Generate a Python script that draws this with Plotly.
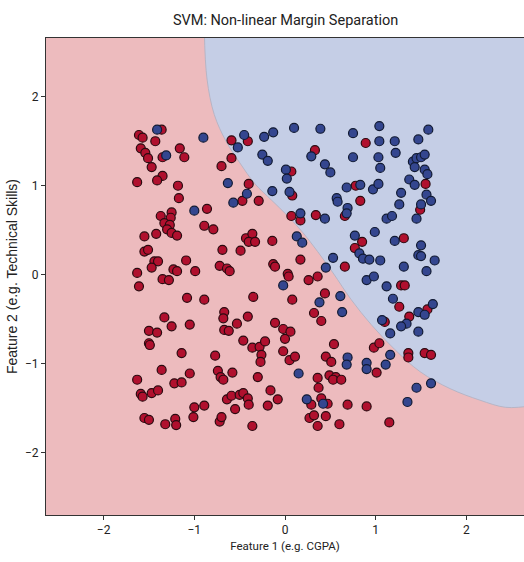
import plotly.graph_objects as go

# ---- data ----
class0_x = [  # red class
    -1.61, -1.57, -1.36, -1.43, -1.59, -1.54, -1.51, -1.35, -1.16, -1.11, -1.47, -1.35, -1.41, -1.63,
    -1.18, -1.17, -0.59, -0.41, -0.59, -0.70, -0.40, -0.47, -0.29, -0.86, -1.37, -1.25, -1.26, -1.33,
    -1.27, -1.30, -1.25, -1.19, -0.89, -0.79, -1.55, -1.42, -0.43, -0.36, -0.40, -0.33, -0.14, -1.55,
    -1.51, -0.69, -0.49, -1.09, -1.44, -1.40, -1.47, -0.13, -0.11, -1.63, -1.23, -1.19, -0.99, -0.72,
    -0.64, -0.61,
    0.89, 0.33, 0.07, 1.55, 0.78, 0.08, 0.83, 1.49, 0.07, 0.17, 0.34, 0.66, 0.17, 0.85, 0.77, 1.31,
    0.66, 0.03,
    -1.35, -1.28, -1.61, -1.08, -0.89, -0.35, -1.33, -1.25, -1.05, -0.67, -0.68, -0.53, -0.41, -0.11,
    -1.50, -1.41, -0.67, -0.62, -0.02, 0.00, -1.50, -1.49, -0.46, -0.36, -0.28, -0.22, -0.26, -0.27,
    -0.02, -1.14, -0.77, -1.36, -1.05, -0.74, -0.71, -0.68, -0.58, -0.30, -1.63, -1.22, -1.14, -1.59,
    -1.57, -1.47, -1.40, -0.64, -0.59, -0.50, -0.46, -0.41, -0.40, -0.16, -0.08, -1.00, -0.89, -1.01,
    -0.55, -0.19, -1.55, -1.50, -1.32, -1.21, -1.20, -0.72, -0.70, -0.36,
    0.04, 0.26, 0.36, 1.28, 1.32, 0.08, 0.44, 0.32, 0.40, 1.26, 1.57, 1.37, 1.10, 0.06, 0.05, 0.11,
    0.54, 0.98, 1.04, 1.36, 1.36, 1.54, 1.61, 0.45, 0.51, 1.01, 0.36, 0.49, 0.56, 0.53, 0.62, 0.37,
    0.29, 0.40, 0.47, 0.69, 0.90, 0.27, 0.32, 0.45, 0.36, 0.60, 1.15,
]
class0_y = [
    1.57, 1.54, 1.63, 1.50, 1.42, 1.37, 1.31, 1.32, 1.42, 1.32, 1.21, 1.11, 1.06, 1.04,
    1.00, 0.86, 1.51, 1.50, 1.31, 1.22, 1.02, 0.83, 0.83, 0.74, 0.66, 0.70, 0.64, 0.58,
    0.56, 0.51, 0.47, 0.44, 0.55, 0.51, 0.43, 0.46, 0.41, 0.46, 0.37, 0.37, 0.38, 0.26,
    0.28, 0.28, 0.27, 0.16, 0.15, 0.15, 0.08, 0.12, 0.09, 0.02, 0.06, 0.04, 0.04, 0.10,
    0.07, 0.04,
    1.48, 1.40, 1.16, 1.02, 1.00, 0.89, 0.83, 0.73, 0.66, 0.61, 0.67, 0.66, 0.17, 0.37, 0.30, 0.41,
    0.09, 0.01,
    -0.05, -0.06, -0.13, -0.26, -0.28, -0.25, -0.48, -0.58, -0.56, -0.42, -0.49, -0.55, -0.47, -0.54,
    -0.63, -0.65, -0.62, -0.63, -0.61, -0.72, -0.77, -0.79, -0.74, -0.82, -0.81, -0.75, -0.90, -0.98,
    -0.86, -0.88, -0.91, -1.07, -1.11, -1.08, -1.15, -1.18, -1.10, -1.15, -1.18, -1.22, -1.21, -1.34,
    -1.37, -1.33, -1.30, -1.40, -1.36, -1.35, -1.33, -1.39, -1.46, -1.30, -1.40, -1.49, -1.47, -1.60,
    -1.51, -1.47, -1.61, -1.63, -1.68, -1.62, -1.69, -1.65, -1.60, -1.70,
    -0.02, -0.06, -0.02, -0.12, -0.12, -0.28, -0.21, -0.43, -0.52, -0.36, -0.39, -0.47, -0.53, -0.64, -0.96, -0.92,
    -0.78, -0.82, -0.77, -0.88, -0.93, -0.88, -0.90, -0.92, -0.98, -1.10, -1.16, -1.13, -1.15, -1.18, -1.18, -1.27,
    -1.46, -1.39, -1.45, -1.46, -1.48, -1.61, -1.58, -1.59, -1.70, -1.68, -1.66,
]
class1_x = [  # blue class
    -1.41, -1.31, -0.90, -0.45, -0.52, -0.23, -0.13, -0.25, -0.19, -0.63, -0.14, -0.42, -0.57, -1.00,
    0.10, 0.39, 0.75, 1.04, 1.04, 1.21, 1.47, 1.58, 0.29, 0.75, 1.03, 1.22, 1.05, 0.44, 0.50, 0.01,
    0.02, 1.41, 1.45, 1.50, 1.54, 1.43, 1.54, 1.57, 1.37, 1.43, 1.56, 1.61, 0.68, 0.83, 0.97, 1.03,
    1.28, 0.05, 0.57, 0.58, 0.69, 1.26, 1.50, 0.17, 0.44, 0.68, 1.12, 1.18, 1.45, 0.13, 0.19, 0.82,
    0.86, 0.93, 0.99, 1.21, 1.50, 1.47, 1.50, 1.65, 0.53, 1.05, 1.31, 1.56, 0.45, 0.77,
    -0.02,
    0.90, 0.98, 1.12, 0.61, 0.38, 0.63, 1.19, 1.47, 1.54, 1.63, 1.34, 1.28, 1.47, 1.16, 1.07,
    1.16, 0.69, 0.68, 0.90, 0.90, 1.11, 0.15, 0.24, 0.42, 1.45, 1.61, 1.35,
]
class1_y = [
    1.63, 1.34, 1.54, 1.57, 1.43, 1.55, 1.60, 1.35, 1.28, 1.03, 0.94, 0.91, 0.81, 0.72,
    1.65, 1.64, 1.59, 1.67, 1.50, 1.50, 1.52, 1.63, 1.33, 1.32, 1.32, 1.37, 1.20, 1.24, 1.15, 1.18,
    1.08, 1.27, 1.31, 1.32, 1.35, 1.21, 1.18, 1.13, 1.07, 1.01, 0.90, 0.83, 0.98, 1.01, 0.96, 1.02,
    0.92, 0.93, 0.86, 0.82, 0.75, 0.79, 0.79, 0.69, 0.63, 0.69, 0.63, 0.66, 0.63, 0.43, 0.36, 0.24,
    0.18, 0.17, 0.48, 0.38, 0.33, 0.22, 0.21, 0.16, 0.19, 0.16, 0.09, 0.04, 0.08, 0.44,
    -0.12,
    -0.06, -0.02, -0.13, -0.24, -0.31, -0.42, -0.27, -0.42, -0.45, -0.33, -0.55, -0.58, -0.64, -0.66, -0.51,
    -0.90, -0.93, -1.01, -0.99, -1.06, -1.01, -1.11, -1.40, -1.45, -1.27, -1.22, -1.43,
]

# decision boundary of the SVM (blue region lies above / right of it)
boundary_x = [-0.89, -0.86, -0.78, -0.65, -0.50, -0.33, -0.15, 0.03, 0.20, 0.36, 0.53, 0.73, 0.95,
              1.21, 1.49, 1.82, 2.15, 2.43, 2.70]
boundary_y = [2.75, 2.20, 1.80, 1.50, 1.26, 1.02, 0.84, 0.66, 0.47, 0.26, 0.02, -0.28, -0.56,
              -0.84, -1.09, -1.28, -1.41, -1.49, -1.48]

x_range = [-2.635, 2.635]
y_range = [-2.70, 2.66]
x_ticks = [-2, -1, 0, 1, 2]
y_ticks = [-2, -1, 0, 1, 2]
tick_text = ["\u22122", "\u22121", "0", "1", "2"]

title_text = "SVM: Non-linear Margin Separation"
x_title = "Feature 1 (e.g. CGPA)"
y_title = "Feature 2 (e.g. Technical Skills)"

# ---- figure ----
fig = go.Figure()

poly_x = boundary_x + [x_range[1] + 0.2, x_range[1] + 0.2, boundary_x[0]]
poly_y = boundary_y + [boundary_y[-1], y_range[1] + 0.2, y_range[1] + 0.2]
fig.add_trace(go.Scatter(
    x=poly_x, y=poly_y, mode="lines", fill="toself",
    fillcolor="#C5CEE6", line=dict(color="rgba(180,178,195,0.9)", width=1, shape="spline", smoothing=1.0),
    hoverinfo="skip", showlegend=False,
))

fig.add_trace(go.Scatter(
    x=class0_x, y=class0_y, mode="markers", showlegend=False,
    marker=dict(size=9, color="#B0102E", line=dict(color="#2a0a10", width=1.2)),
))
fig.add_trace(go.Scatter(
    x=class1_x, y=class1_y, mode="markers", showlegend=False,
    marker=dict(size=9, color="#34468F", line=dict(color="#111a33", width=1.2)),
))

axis_common = dict(
    showgrid=False, zeroline=False, showline=True, linecolor="#333", linewidth=1, mirror=True,
    ticks="outside", ticklen=4, tickcolor="#333",
    tickfont=dict(family="Roboto, Arial, sans-serif", size=12, color="#222"),
)

fig.update_layout(
    width=524, height=562,
    margin=dict(l=46, r=0, t=38, b=47),
    paper_bgcolor="white", plot_bgcolor="#EDBBBE",
    title=dict(text=title_text, x=0.545, xanchor="center", y=0.965, yanchor="middle",
               font=dict(family="Roboto, Arial, sans-serif", size=14.5, color="#222")),
    xaxis=dict(range=x_range, tickvals=x_ticks, ticktext=tick_text,
               title=dict(text=x_title, standoff=5,
                          font=dict(family="Roboto, Arial, sans-serif", size=11.5, color="#222")),
               **axis_common),
    yaxis=dict(range=y_range, tickvals=y_ticks, ticktext=tick_text,
               title=dict(text=y_title, standoff=4,
                          font=dict(family="Liberation Sans, Arial, sans-serif", size=14, color="#222")),
               **axis_common),
)

fig.write_html("out.html")
